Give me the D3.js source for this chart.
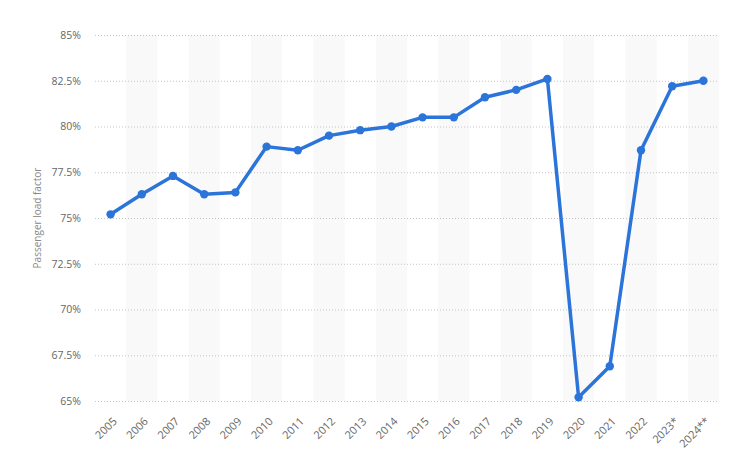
<!DOCTYPE html>
<html lang="en">
<head>
<meta charset="UTF-8">
<script src="https://cdn.jsdelivr.net/npm/d3@7/dist/d3.min.js"></script>
<title>Passenger load factor</title>
<style>
  body { margin: 0; background: #fff; }
  text { font-family: "Open Sans", sans-serif; }
</style>
</head>
<body>
<script>
var width = 731;
var height = 466;

var years = ["2005", "2006", "2007", "2008", "2009", "2010", "2011", "2012", "2013", "2014",
  "2015", "2016", "2017", "2018", "2019", "2020", "2021", "2022", "2023*", "2024**"];
var loadFactor = [75.2, 76.3, 77.3, 76.3, 76.4, 78.9, 78.7, 79.5, 79.8, 80.0,
  80.5, 80.5, 81.6, 82.0, 82.6, 65.2, 66.9, 78.7, 82.2, 82.5];
var yTicks = [65, 67.5, 70, 72.5, 75, 77.5, 80, 82.5, 85];

var margin = { top: 35, right: 12, bottom: 65, left: 95 };
var plotW = width - margin.left - margin.right;
var plotH = height - margin.top - margin.bottom;

var svg = d3.select("body").append("svg").attr("width", width).attr("height", height);
var g = svg.append("g").attr("transform", "translate(" + margin.left + "," + margin.top + ")");

var x = d3.scaleBand().domain(years).range([0, plotW]);
var y = d3.scaleLinear().domain([65, 85]).range([plotH, 0]);

// alternating column bands
g.selectAll("rect.band").data(years.filter(function (d, i) { return i % 2 == 1; }))
  .enter().append("rect")
  .attr("class", "band")
  .attr("x", function (d) { return x(d); })
  .attr("y", 0)
  .attr("width", x.bandwidth())
  .attr("height", plotH)
  .style("fill", "#f9f9f9");

// gridlines + y labels
var yAxis = d3.axisLeft(y).tickValues(yTicks).tickSize(-plotW).tickPadding(14)
  .tickFormat(function (d) { return d + "%"; });
var ya = g.append("g").call(yAxis);
ya.select(".domain").remove();
ya.selectAll(".tick line").attr("stroke", "#c4c4c4").attr("stroke-dasharray", "1,2");
ya.selectAll(".tick text").attr("fill", "#666").style("font-size", "10.5px");

// x labels
var xAxis = d3.axisBottom(x).tickSize(0).tickPadding(0);
var xa = g.append("g").attr("transform", "translate(0," + plotH + ")").call(xAxis);
xa.select(".domain").remove();
xa.selectAll(".tick text")
  .attr("fill", "#666")
  .style("font-size", "11px")
  .attr("text-anchor", "end")
  .attr("dy", null)
  .attr("transform", "translate(7,21) rotate(-45)");

// y axis title
svg.append("text")
  .attr("transform", "translate(41," + (margin.top + plotH / 2) + ") rotate(-90)")
  .attr("text-anchor", "middle")
  .attr("fill", "#888")
  .style("font-size", "10px")
  .text("Passenger load factor");

var line = d3.line()
  .x(function (d, i) { return x(years[i]) + x.bandwidth() / 2; })
  .y(function (d) { return y(d); });

g.append("path").datum(loadFactor)
  .attr("d", line)
  .attr("fill", "none")
  .attr("stroke", "#2b74d9")
  .attr("stroke-width", 3.5)
  .attr("stroke-linejoin", "round");

g.selectAll("circle").data(loadFactor).enter().append("circle")
  .attr("cx", function (d, i) { return x(years[i]) + x.bandwidth() / 2; })
  .attr("cy", function (d) { return y(d); })
  .attr("r", 4.2)
  .style("fill", "#2b74d9");
</script>
</body>
</html>
